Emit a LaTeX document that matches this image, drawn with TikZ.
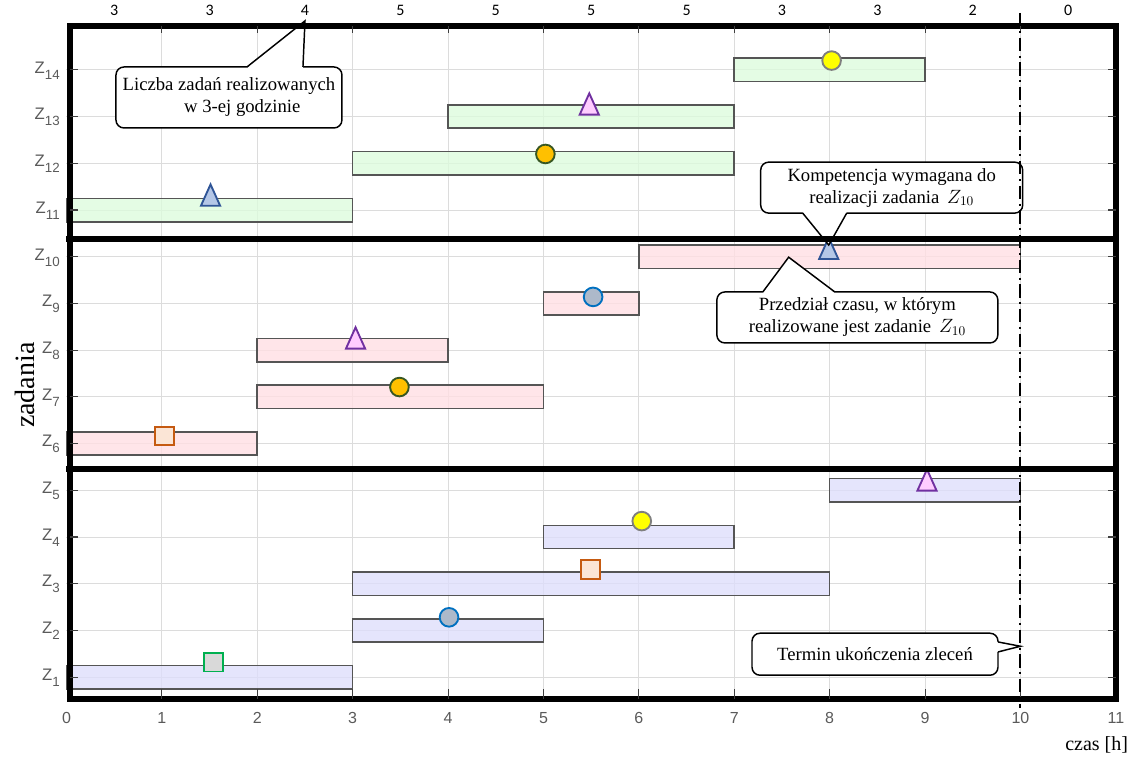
\documentclass[tikz,border=0pt]{standalone}
\usepackage{fontspec}
\setmainfont{Liberation Serif}
\setsansfont{Liberation Sans}
\newfontfamily\numfont{Carlito}
\usepackage{xcolor}
\definecolor{GridLine}{HTML}{DCDCDC}
\definecolor{BarLine}{HTML}{555555}
\definecolor{BarGreen}{HTML}{DDFBDD}
\definecolor{BarPink}{HTML}{FFDFE3}
\definecolor{BarBlue}{HTML}{DEDEFB}
\definecolor{TickGray}{HTML}{5A5A5A}
\definecolor{TriBlueF}{HTML}{B4C7E7}
\definecolor{TriBlueD}{HTML}{2F5597}
\definecolor{TriVioF}{HTML}{FFCCFF}
\definecolor{TriVioD}{HTML}{7030A0}
\definecolor{CircYelF}{HTML}{FFFF00}
\definecolor{CircYelD}{HTML}{7F7F7F}
\definecolor{CircGoldF}{HTML}{FFC000}
\definecolor{CircGoldD}{HTML}{385723}
\definecolor{CircGrayF}{HTML}{ADB9CA}
\definecolor{CircGrayD}{HTML}{0070C0}
\definecolor{SqOrF}{HTML}{FBE5D6}
\definecolor{SqOrD}{HTML}{C55A11}
\definecolor{SqGrF}{HTML}{D9D9D9}
\definecolor{SqGrD}{HTML}{00B050}
\usetikzlibrary{calc}

\begin{document}
\begin{tikzpicture}[
  x=71.55pt, y=35.03pt,
  gridline/.style={draw=GridLine,line width=.7pt},
  zbar/.style={draw=BarLine,line width=1.2pt,fill opacity=.8},
  zbarG/.style={zbar,fill=BarGreen},
  zbarP/.style={zbar,fill=BarPink},
  zbarB/.style={zbar,fill=BarBlue},
  boxline/.style={line width=4.5pt},
  axtick/.style={draw=TickGray!70!black,line width=.8pt},
  ticklabel/.style={font=\sffamily\fontsize{12}{14}\selectfont,text=TickGray},
  cntnum/.style={font=\numfont\fontsize{12}{14}\selectfont},
  callout/.style={draw,rounded corners=6pt,fill=white,line width=1.1pt,align=center,
    font=\fontsize{14}{16.5}\selectfont,inner sep=0pt},
  pointer/.style={line width=1.1pt,line join=miter},
  circmark/.style={circle,minimum size=14pt,inner sep=0pt,line width=1.4pt},
  sqmark/.style={rectangle,minimum size=14pt,inner sep=0pt,line width=1.4pt},
  tri/.pic={\path[pic actions] (0,8pt) -- (7.2pt,-8pt) -- (-7.2pt,-8pt) -- cycle;},
  triblue/.style={draw=TriBlueD,fill=TriBlueF,line width=1.4pt,line join=miter},
  trivio/.style={draw=TriVioD,fill=TriVioF,line width=1.4pt,line join=miter},
  deadline/.style={line width=1.5pt,dash pattern=on 10pt off 3.5pt on 1.5pt off 3.5pt}
]
\useasboundingbox (-0.697,-0.777) rectangle (11.169,15.497);

% grid behind everything
\foreach \i in {1,...,10} \draw[gridline] (\i,0.53) -- (\i,14.95);
\foreach \k in {1,...,14} \draw[gridline] (0,\k) -- (11,\k);

% tasks Z1..Z5
\draw[zbarB] (0,0.75) rectangle (3,1.25);
\draw[zbarB] (3,1.75) rectangle (5,2.25);
\draw[zbarB] (3,2.75) rectangle (8,3.25);
\draw[zbarB] (5,3.75) rectangle (7,4.25);
\draw[zbarB] (8,4.75) rectangle (10,5.25);
% tasks Z6..Z10
\draw[zbarP] (0,5.75) rectangle (2,6.25);
\draw[zbarP] (2,6.75) rectangle (5,7.25);
\draw[zbarP] (2,7.75) rectangle (4,8.25);
\draw[zbarP] (5,8.75) rectangle (6,9.25);
\draw[zbarP] (6,9.75) rectangle (10,10.25);
% tasks Z11..Z14
\draw[zbarG] (0,10.75) rectangle (3,11.25);
\draw[zbarG] (3,11.75) rectangle (7,12.25);
\draw[zbarG] (4,12.75) rectangle (7,13.25);
\draw[zbarG] (7,13.75) rectangle (9,14.25);

% competence markers
\node[sqmark,fill=SqGrF,draw=SqGrD] (m1) at (1.54,1.32) {};
\node[circmark,fill=CircGrayF,draw=CircGrayD] (m2) at (4.01,2.28) {};
\node[sqmark,fill=SqOrF,draw=SqOrD] (m3) at (5.49,3.30) {};
\node[circmark,fill=CircYelF,draw=CircYelD] (m4) at (6.03,4.34) {};
\pic[trivio] at (9.02,5.22) {tri};
\node[sqmark,fill=SqOrF,draw=SqOrD] (m6) at (1.03,6.16) {};
\node[circmark,fill=CircGoldF,draw=CircGoldD] (m7) at (3.49,7.21) {};
\pic[trivio] at (3.03,8.26) {tri};
\node[circmark,fill=CircGrayF,draw=CircGrayD] (m9) at (5.52,9.14) {};
\pic[triblue] at (7.99,10.18) {tri};
\pic[triblue] at (1.51,11.32) {tri};
\node[circmark,fill=CircGoldF,draw=CircGoldD] (m12) at (5.02,12.20) {};
\pic[trivio] at (5.48,13.27) {tri};
\node[circmark,fill=CircYelF,draw=CircYelD] (m14) at (8.02,14.20) {};

% callouts
\node[callout,minimum width=169.5pt,minimum height=45.75pt] (cnt) at (1.703,13.41)
  {Liczba zadań realizowanych\\\hspace*{20pt}w 3-ej godzinie};
\node[callout,minimum width=196.5pt,minimum height=38.25pt] (comp) at (8.65,11.48)
  {Kompetencja wymagana do\\realizacji zadania~\,$Z_{10}$};
\node[callout,minimum width=210.75pt,minimum height=38.25pt] (span) at (8.29,8.70)
  {Przedział czasu, w którym\\realizowane jest zadanie~\,$Z_{10}$};
\node[callout,minimum width=184.5pt,minimum height=31.5pt] (term) at (8.475,1.49)
  {Termin ukończenia zleceń};

\coordinate (cntTip) at (2.5,15.05);
\coordinate (compTip) at (7.99,10.25);
\coordinate (spanTip) at (7.57,9.99);
\coordinate (termTip) at (10,1.66);

\fill[white] ([xshift=13.5pt,yshift=-1.3pt]cnt.north) -- (cntTip) -- ([xshift=55.5pt,yshift=-1.3pt]cnt.north) -- cycle;
\draw[pointer] ([xshift=13.5pt,yshift=-.55pt]cnt.north) -- (cntTip) -- ([xshift=55.5pt,yshift=-.55pt]cnt.north);
\fill[white] ([xshift=-66.75pt,yshift=1.3pt]comp.south) -- (compTip) -- ([xshift=-33.75pt,yshift=1.3pt]comp.south) -- cycle;
\draw[pointer] ([xshift=-66.75pt,yshift=.55pt]comp.south) -- (compTip) -- ([xshift=-33.75pt,yshift=.55pt]comp.south);
\fill[white] ([xshift=-70.9pt,yshift=-1.3pt]span.north) -- (spanTip) -- ([xshift=-16.9pt,yshift=-1.3pt]span.north) -- cycle;
\draw[pointer] ([xshift=-70.9pt,yshift=-.55pt]span.north) -- (spanTip) -- ([xshift=-16.9pt,yshift=-.55pt]span.north);
\fill[white] ([yshift=9.2pt,xshift=-1.3pt]term.east) -- (termTip) -- ([yshift=1.7pt,xshift=-1.3pt]term.east) -- cycle;
\draw[pointer] ([yshift=9.2pt,xshift=-.55pt]term.east) -- (termTip) -- ([yshift=1.7pt,xshift=-.55pt]term.east);

% frame and group separators
\draw[boxline] (0,10.38) -- (11,10.38);
\draw[boxline] (0,5.45) -- (11,5.45);
\draw[boxline] (0.04,0.53) rectangle (11,14.95);

% ticks
\foreach \i in {1,...,10} {
  \draw[axtick] (\i,0.53) -- ++(0,7.5pt);
  \draw[axtick] (\i,14.95) -- ++(0,-5.5pt);
}
\foreach \k in {1,...,14} {
  \draw[axtick] (0.04,\k) -- ++(5.5pt,0);
  \draw[axtick] (11,\k) -- ++(-6pt,0);
}

% deadline
\coordinate (dlTop) at (10,15.22);
\coordinate (dlBot) at (10,0.34);
\draw[deadline] (dlTop) -- (dlBot);

% labels
\foreach \i in {0,...,11} \node[ticklabel] (xl\i) at (\i,0.12) {\i};
\foreach \k in {1,...,14} \node[ticklabel,anchor=base east,inner xsep=0pt] (yl\k) at (-0.068,\k-0.07)
  {\fontsize{12.5}{14}\selectfont Z\raisebox{-4.5pt}{\fontsize{10}{12}\selectfont\k}};
\foreach \n [count=\c] in {3,3,4,5,5,5,5,3,3,2,0} \node[cntnum] (n\c) at (\c-0.5,15.28) {\n};
\node[rotate=90,font=\fontsize{21}{24}\selectfont] (ylab) at (-0.435,7.25) {zadania};
\node[anchor=east,font=\fontsize{15}{18}\selectfont,inner xsep=0pt] (xlab) at (11.13,-0.456) {czas [h]};
\end{tikzpicture}
\end{document}
